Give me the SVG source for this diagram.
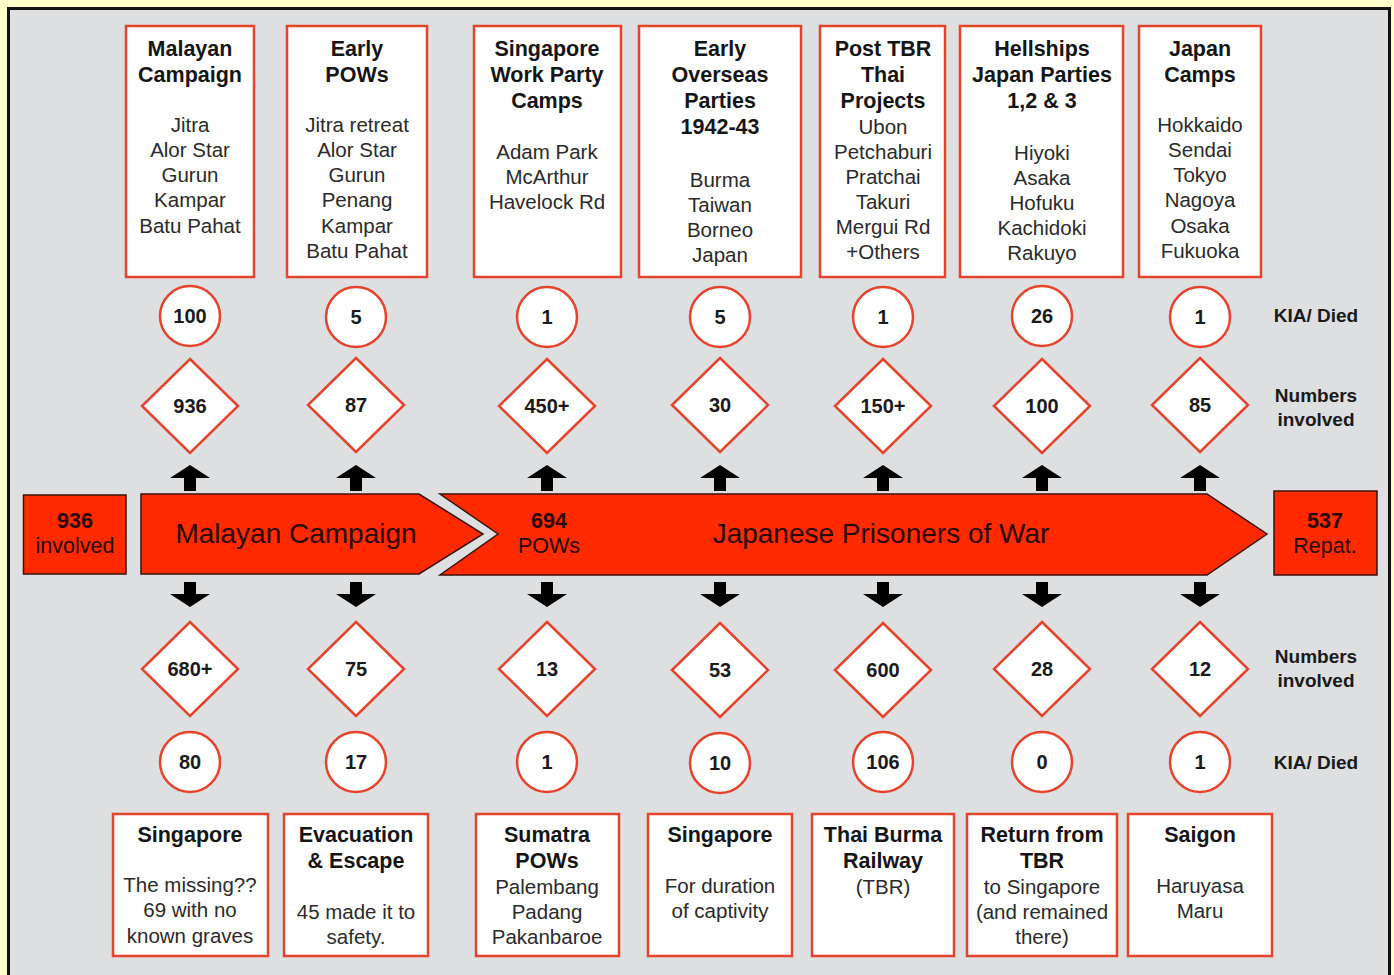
<svg xmlns="http://www.w3.org/2000/svg" width="1394" height="975" viewBox="0 0 1394 975">
<style>
text{font-family:"Liberation Sans",Arial,Helvetica,sans-serif;text-anchor:middle}
.box{fill:#fff;stroke:#E5432B;stroke-width:2.5}
.t{font-size:21.5px;font-weight:bold;fill:#151515}
.b{font-size:20.5px;fill:#2a2a2a}
.n{font-size:20px;font-weight:bold;fill:#1a1a1a}
.lab{font-size:19px;font-weight:bold;fill:#1a1a1a}
.circ{fill:#fff;stroke:#E5432B;stroke-width:2.5}
.dia{fill:#fff;stroke:#E5432B;stroke-width:2.5}
.band{fill:#FF2A00;stroke:#3a1208;stroke-width:1.5}
.bt{font-size:28px;fill:#2a0700}
.bn{font-size:21.5px;font-weight:bold;fill:#2a0700}
.bs{font-size:21.5px;fill:#2a0700}
</style>
<defs>
<polygon id="up" points="0,0 20,13 6,13 6,26 -6,26 -6,13 -20,13" fill="#000"/>
<polygon id="dn" points="0,0 20,-13 6,-13 6,-25 -6,-25 -6,-13 -20,-13" fill="#000"/>
<polygon id="d" points="0,-47 48,0 0,47 -48,0" class="dia"/>
</defs>
<rect x="0" y="0" width="1394" height="975" fill="#FFFFCC"/>
<rect x="8.5" y="8.5" width="1381" height="1000" fill="#DDDFE1" stroke="#111" stroke-width="3"/>

<!-- Top boxes -->
<g id="top-malayan-campaign">
<rect class="box" x="126" y="26" width="128" height="251"/>
<text class="t" x="190" y="56">Malayan</text><text class="t" x="190" y="82">Campaign</text>
<text class="b" x="190" y="132">Jitra</text><text class="b" x="190" y="157">Alor Star</text><text class="b" x="190" y="182">Gurun</text><text class="b" x="190" y="207">Kampar</text><text class="b" x="190" y="233">Batu Pahat</text>
</g>
<g id="top-early-pows">
<rect class="box" x="287" y="26" width="140" height="251"/>
<text class="t" x="357" y="56">Early</text><text class="t" x="357" y="82">POWs</text>
<text class="b" x="357" y="132">Jitra retreat</text><text class="b" x="357" y="157">Alor Star</text><text class="b" x="357" y="182">Gurun</text><text class="b" x="357" y="207">Penang</text><text class="b" x="357" y="233">Kampar</text><text class="b" x="357" y="258">Batu Pahat</text>
</g>
<g id="top-singapore-work-party">
<rect class="box" x="474" y="26" width="147" height="251"/>
<text class="t" x="547" y="56">Singapore</text><text class="t" x="547" y="82">Work Party</text><text class="t" x="547" y="108">Camps</text>
<text class="b" x="547" y="159">Adam Park</text><text class="b" x="547" y="184">McArthur</text><text class="b" x="547" y="209">Havelock Rd</text>
</g>
<g id="top-early-overseas">
<rect class="box" x="639" y="26" width="162" height="251"/>
<text class="t" x="720" y="56">Early</text><text class="t" x="720" y="82">Overseas</text><text class="t" x="720" y="108">Parties</text><text class="t" x="720" y="134">1942-43</text>
<text class="b" x="720" y="187">Burma</text><text class="b" x="720" y="212">Taiwan</text><text class="b" x="720" y="237">Borneo</text><text class="b" x="720" y="262">Japan</text>
</g>
<g id="top-post-tbr">
<rect class="box" x="820" y="26" width="125" height="251"/>
<text class="t" x="883" y="56">Post TBR</text><text class="t" x="883" y="82">Thai</text><text class="t" x="883" y="108">Projects</text>
<text class="b" x="883" y="134">Ubon</text><text class="b" x="883" y="159">Petchaburi</text><text class="b" x="883" y="184">Pratchai</text><text class="b" x="883" y="209">Takuri</text><text class="b" x="883" y="234">Mergui Rd</text><text class="b" x="883" y="259">+Others</text>
</g>
<g id="top-hellships">
<rect class="box" x="960" y="26" width="163" height="251"/>
<text class="t" x="1042" y="56">Hellships</text><text class="t" x="1042" y="82">Japan Parties</text><text class="t" x="1042" y="108">1,2 &amp; 3</text>
<text class="b" x="1042" y="160">Hiyoki</text><text class="b" x="1042" y="185">Asaka</text><text class="b" x="1042" y="210">Hofuku</text><text class="b" x="1042" y="235">Kachidoki</text><text class="b" x="1042" y="260">Rakuyo</text>
</g>
<g id="top-japan-camps">
<rect class="box" x="1139" y="26" width="122" height="251"/>
<text class="t" x="1200" y="56">Japan</text><text class="t" x="1200" y="82">Camps</text>
<text class="b" x="1200" y="132">Hokkaido</text><text class="b" x="1200" y="157">Sendai</text><text class="b" x="1200" y="182">Tokyo</text><text class="b" x="1200" y="207">Nagoya</text><text class="b" x="1200" y="233">Osaka</text><text class="b" x="1200" y="258">Fukuoka</text>
</g>

<!-- Top circles (KIA/Died) -->
<g id="top-kia">
<circle class="circ" cx="190" cy="316" r="30"/><text class="n" x="190" y="323">100</text>
<circle class="circ" cx="356" cy="317" r="30"/><text class="n" x="356" y="324">5</text>
<circle class="circ" cx="547" cy="317" r="30"/><text class="n" x="547" y="324">1</text>
<circle class="circ" cx="720" cy="317" r="30"/><text class="n" x="720" y="324">5</text>
<circle class="circ" cx="883" cy="317" r="30"/><text class="n" x="883" y="324">1</text>
<circle class="circ" cx="1042" cy="316" r="30"/><text class="n" x="1042" y="323">26</text>
<circle class="circ" cx="1200" cy="317" r="30"/><text class="n" x="1200" y="324">1</text>
</g>
<!-- Top diamonds (Numbers involved) -->
<g id="top-numbers">
<use href="#d" x="190" y="406"/><text class="n" x="190" y="413">936</text>
<use href="#d" x="356" y="405"/><text class="n" x="356" y="412">87</text>
<use href="#d" x="547" y="406"/><text class="n" x="547" y="413">450+</text>
<use href="#d" x="720" y="405"/><text class="n" x="720" y="412">30</text>
<use href="#d" x="883" y="406"/><text class="n" x="883" y="413">150+</text>
<use href="#d" x="1042" y="406"/><text class="n" x="1042" y="413">100</text>
<use href="#d" x="1200" y="405"/><text class="n" x="1200" y="412">85</text>
</g>
<g id="labels-top">
<text class="lab" x="1316" y="322">KIA/ Died</text>
<text class="lab" x="1316" y="402">Numbers</text>
<text class="lab" x="1316" y="426">involved</text>
</g>

<!-- Band -->
<g id="start-box">
<rect class="band" x="23.5" y="495" width="102.5" height="79"/>
<text class="bn" x="75" y="528">936</text><text class="bs" x="75" y="553">involved</text>
</g>
<g id="malayan-campaign-arrow">
<polygon class="band" points="141,494 419,494 483,534 419,574 141,574"/>
<text class="bt" x="296" y="543">Malayan Campaign</text>
</g>
<g id="japanese-pow-arrow">
<polygon class="band" points="440,494 1207,494 1267,534 1207,575 440,575 498,534"/>
<text class="bn" x="549" y="528">694</text><text class="bs" x="549" y="553">POWs</text>
<text class="bt" x="881" y="543">Japanese Prisoners of War</text>
</g>
<g id="end-box">
<rect class="band" x="1274" y="491" width="103" height="84"/>
<text class="bn" x="1325" y="528">537</text><text class="bs" x="1325" y="553">Repat.</text>
</g>

<!-- Connectors -->
<g id="connectors">
<use href="#up" x="190" y="465"/><use href="#up" x="356" y="465"/><use href="#up" x="547" y="465"/><use href="#up" x="720" y="465"/><use href="#up" x="883" y="465"/><use href="#up" x="1042" y="465"/><use href="#up" x="1200" y="465"/>
<use href="#dn" x="190" y="607"/><use href="#dn" x="356" y="607"/><use href="#dn" x="547" y="607"/><use href="#dn" x="720" y="607"/><use href="#dn" x="883" y="607"/><use href="#dn" x="1042" y="607"/><use href="#dn" x="1200" y="607"/>
</g>

<!-- Bottom diamonds -->
<g id="bottom-numbers">
<use href="#d" x="190" y="669"/><text class="n" x="190" y="676">680+</text>
<use href="#d" x="356" y="669"/><text class="n" x="356" y="676">75</text>
<use href="#d" x="547" y="669"/><text class="n" x="547" y="676">13</text>
<use href="#d" x="720" y="670"/><text class="n" x="720" y="677">53</text>
<use href="#d" x="883" y="670"/><text class="n" x="883" y="677">600</text>
<use href="#d" x="1042" y="669"/><text class="n" x="1042" y="676">28</text>
<use href="#d" x="1200" y="669"/><text class="n" x="1200" y="676">12</text>
</g>
<g id="bottom-kia">
<circle class="circ" cx="190" cy="762" r="30"/><text class="n" x="190" y="769">80</text>
<circle class="circ" cx="356" cy="762" r="30"/><text class="n" x="356" y="769">17</text>
<circle class="circ" cx="547" cy="762" r="30"/><text class="n" x="547" y="769">1</text>
<circle class="circ" cx="720" cy="763" r="30"/><text class="n" x="720" y="770">10</text>
<circle class="circ" cx="883" cy="762" r="30"/><text class="n" x="883" y="769">106</text>
<circle class="circ" cx="1042" cy="762" r="30"/><text class="n" x="1042" y="769">0</text>
<circle class="circ" cx="1200" cy="762" r="30"/><text class="n" x="1200" y="769">1</text>
</g>
<g id="labels-bottom">
<text class="lab" x="1316" y="663">Numbers</text>
<text class="lab" x="1316" y="687">involved</text>
<text class="lab" x="1316" y="769">KIA/ Died</text>
</g>

<!-- Bottom boxes -->
<g id="bottom-singapore-missing">
<rect class="box" x="113" y="814" width="155" height="142"/>
<text class="t" x="190" y="842">Singapore</text>
<text class="b" x="190" y="892">The missing??</text><text class="b" x="190" y="917">69 with no</text><text class="b" x="190" y="943">known graves</text>
</g>
<g id="bottom-evacuation">
<rect class="box" x="284" y="814" width="144" height="142"/>
<text class="t" x="356" y="842">Evacuation</text><text class="t" x="356" y="868">&amp; Escape</text>
<text class="b" x="356" y="919">45 made it to</text><text class="b" x="356" y="944">safety.</text>
</g>
<g id="bottom-sumatra">
<rect class="box" x="476" y="814" width="143" height="142"/>
<text class="t" x="547" y="842">Sumatra</text><text class="t" x="547" y="868">POWs</text>
<text class="b" x="547" y="894">Palembang</text><text class="b" x="547" y="919">Padang</text><text class="b" x="547" y="944">Pakanbaroe</text>
</g>
<g id="bottom-singapore-duration">
<rect class="box" x="648" y="814" width="144" height="142"/>
<text class="t" x="720" y="842">Singapore</text>
<text class="b" x="720" y="893">For duration</text><text class="b" x="720" y="918">of captivity</text>
</g>
<g id="bottom-tbr">
<rect class="box" x="812" y="814" width="142" height="142"/>
<text class="t" x="883" y="842">Thai Burma</text><text class="t" x="883" y="868">Railway</text>
<text class="b" x="883" y="894">(TBR)</text>
</g>
<g id="bottom-return">
<rect class="box" x="967" y="814" width="150" height="142"/>
<text class="t" x="1042" y="842">Return from</text><text class="t" x="1042" y="868">TBR</text>
<text class="b" x="1042" y="894">to Singapore</text><text class="b" x="1042" y="919">(and remained</text><text class="b" x="1042" y="944">there)</text>
</g>
<g id="bottom-saigon">
<rect class="box" x="1128" y="814" width="144" height="142"/>
<text class="t" x="1200" y="842">Saigon</text>
<text class="b" x="1200" y="893">Haruyasa</text><text class="b" x="1200" y="918">Maru</text>
</g>
</svg>
